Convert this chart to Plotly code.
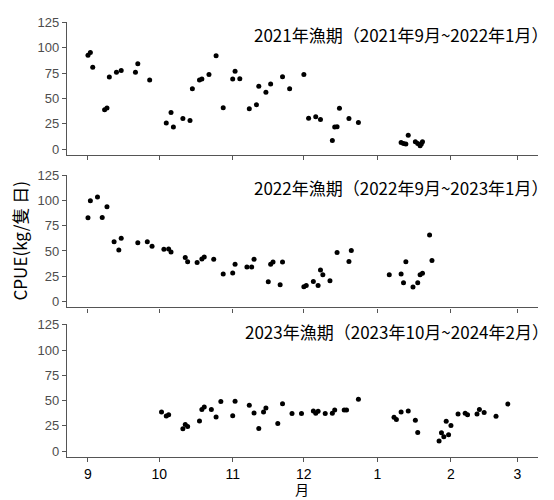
import plotly.graph_objects as go
from plotly.subplots import make_subplots

# x = days since 1 Sep (season day), month tick labels
month_ticks = [0, 30, 61, 91, 122, 153, 181]
month_labels = ["9", "10", "11", "12", "1", "2", "3"]

p1_day = [0, 1, 2, 7, 8, 9, 12, 14, 20, 21, 26, 33, 35, 36, 40, 43, 44, 47, 48, 51,
          54, 57, 61, 62, 64, 68, 71, 72, 75, 77, 82, 85, 91, 93, 96, 98, 103, 104, 105, 106,
          110, 114, 132, 133, 134, 135, 138, 139, 140, 140.5, 141]
p1_val = [92.8, 95.5, 80.8, 38.7, 40.6, 71.1, 76, 77.6, 76, 84.4, 68.2, 25.6, 36, 21.7, 30.2, 28.2, 59.7, 68.2, 69.2, 73.7,
          92.2, 40.9, 69.2, 76.9, 69.5, 39.9, 43.8, 62, 56.2, 64.3, 71.4, 59.7, 73.7, 30.5, 31.8, 29.2, 8.5, 21.7, 22.1, 40.2,
          30.2, 26.3, 6.5, 5.5, 4.9, 13.6, 7.1, 5.5, 3.2, 4.9, 7.1]

p2_day = [0, 1, 4, 6, 8, 11, 13, 14, 21, 25, 27, 32, 34, 35, 41, 42, 46, 48, 49, 53,
          57, 61, 62, 67, 69, 70, 76, 77, 78, 81, 82, 91, 92, 95, 97, 98, 99, 102, 105, 110,
          111, 127, 132, 133, 134, 137, 139, 140, 141, 144, 145]
p2_val = [82.8, 99.6, 103.5, 83.1, 93.8, 59.1, 51, 62.6, 58.1, 59.1, 54.8, 51.6, 51.9, 49, 43.5, 39.3, 38.6, 42.2, 44.1, 41.9,
          27.3, 28.2, 37, 34.1, 34.1, 41.9, 19.5, 37, 39, 16.6, 39, 14.6, 15.9, 19.8, 15.9, 31.2, 26.6, 20.5, 48.4, 39.6,
          50.6, 26.6, 27.3, 18.5, 39.3, 14.3, 18.5, 26.6, 27.9, 65.9, 40.6]

p3_day = [31, 33, 34, 40, 41, 42, 47, 48, 49, 52, 54, 56, 61, 62, 68, 70, 72, 74, 75, 80,
          82, 86, 90, 95, 96, 97, 100, 103, 104, 108, 109, 114, 129, 130, 132, 135, 138, 139, 148, 149,
          150, 151, 152, 153, 156, 159, 160, 164, 165, 167, 172, 177]
p3_val = [38.7, 34.8, 36.1, 22.1, 26.3, 24.4, 29.9, 41.3, 43.6, 41.3, 33.8, 49.1, 35.1, 49.4, 45.5, 37.7, 22.5, 38.7, 42.6, 27.3,
          46.9, 37.1, 37.1, 39.6, 37.4, 39.4, 37.1, 37.4, 40.6, 40.6, 40.6, 51.4, 33.5, 31.2, 38.7, 39.6, 30.6, 18.5, 10, 18.2,
          14.3, 29.6, 16.2, 25.4, 36.7, 37.4, 36.1, 36.7, 41.3, 38.1, 34.5, 46.5]

panel_titles = ["2021年漁期（2021年9月~2022年1月）",
                "2022年漁期（2022年9月~2023年1月）",
                "2023年漁期（2023年10月~2024年2月）"]
y_ticks = [0, 25, 50, 75, 100, 125]

series = [(p1_day, p1_val), (p2_day, p2_val), (p3_day, p3_val)]

fig = make_subplots(rows=3, cols=1, shared_xaxes=False)

for i, (d, v) in enumerate(series, start=1):
    fig.add_trace(go.Scatter(x=d, y=v, mode="markers",
                             marker=dict(color="black", size=5),
                             showlegend=False), row=i, col=1)

# page body has an 8px margin, so figure coords = screen coords - 8
L, R, T, B = 59, 16, 7, 43
W, H = 546, 492
ph = H - T - B
pw = W - L - R
OFF = 8

def dom(top_s, bot_s):
    top_px, bot_px = top_s - OFF, bot_s - OFF
    return [(H - B - bot_px) / ph, (H - B - top_px) / ph]

domains = [dom(15, 150), dom(170, 305), dom(322, 457)]

axis_col = "#555555"
for i in range(1, 4):
    fig.update_yaxes(row=i, col=1, range=[-5.8, 125.6], domain=domains[i - 1],
                     tickvals=y_ticks, showgrid=False, zeroline=False,
                     showline=True, linecolor=axis_col, linewidth=1.3,
                     ticks="outside", ticklen=4, tickcolor=axis_col, tickwidth=1.2,
                     tickfont=dict(family="Liberation Sans", size=13, color="#4d4d4d"))
    fig.update_xaxes(row=i, col=1, range=[-8.85, 189.7],
                     tickvals=month_ticks, ticktext=month_labels,
                     showticklabels=(i == 3), showgrid=False, zeroline=False,
                     showline=True, linecolor=axis_col, linewidth=1.3,
                     ticks="outside", ticklen=4, tickcolor=axis_col, tickwidth=1.2,
                     ticklabelstandoff=0,
                     tickfont=dict(family="Liberation Sans", size=14, color="black"))

def py(screen_y):
    return (H - B - (screen_y - OFF)) / ph

def px(screen_x):
    return (screen_x - OFF - L) / pw

title_centers = [28, 183.5, 329]
for i, t in enumerate(panel_titles):
    fig.add_annotation(text=t, xref="paper", yref="paper",
                       x=px(551), y=py(title_centers[i]), xanchor="right", yanchor="middle",
                       showarrow=False,
                       font=dict(family="Noto Sans CJK SC", size=17, color="black"))

fig.add_annotation(text="CPUE(kg/隻 日)", xref="paper", yref="paper",
                   x=px(19), y=py(237), xanchor="center", yanchor="middle",
                   textangle=-90, showarrow=False,
                   font=dict(family="Noto Sans CJK SC", size=17, color="black"))

fig.add_annotation(text="月", xref="paper", yref="paper",
                   x=px(302), y=py(500), xanchor="center", yanchor="bottom",
                   showarrow=False, borderpad=0,
                   font=dict(family="Liberation Sans, Noto Sans CJK SC", size=14, color="black"))

fig.update_layout(width=W, height=H, margin=dict(l=L, r=R, t=T, b=B),
                  plot_bgcolor="white", paper_bgcolor="white")

fig.write_html("out.html")
